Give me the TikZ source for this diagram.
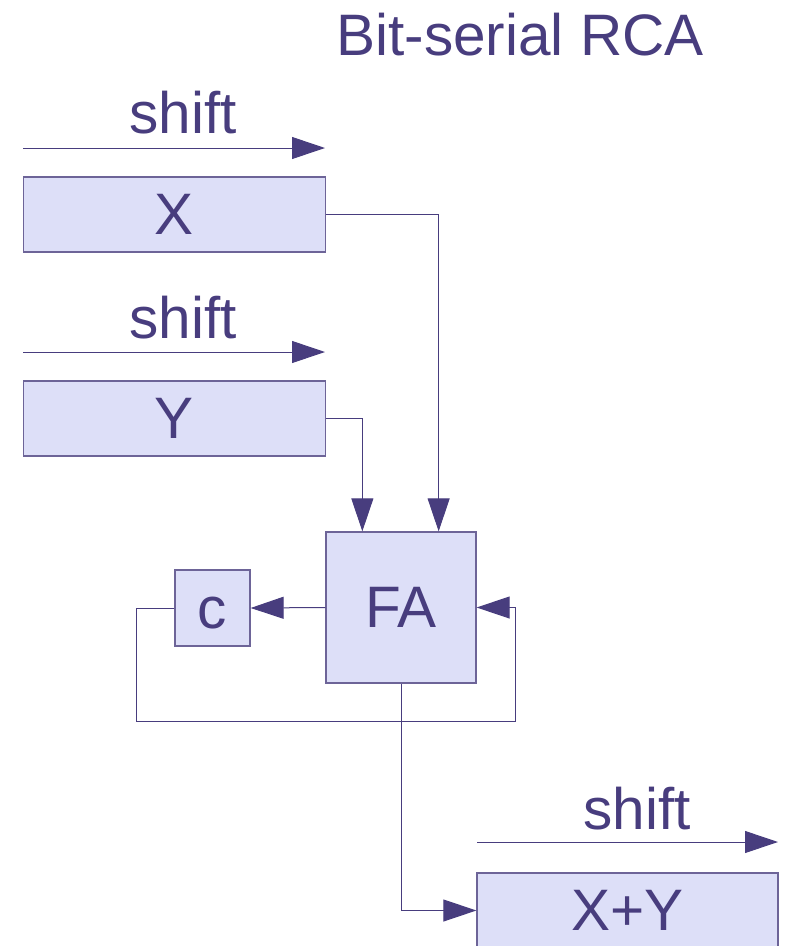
\documentclass[tikz,border=0pt]{standalone}
\usepackage{fontspec}
\setmainfont{Liberation Sans}
\usetikzlibrary{arrows.meta}
\definecolor{ink}{HTML}{483D7E}
\definecolor{pale}{HTML}{DDDFF8}

\begin{document}
\begin{tikzpicture}[x=1pt,y=-1pt]
\tikzstyle{every node}+=[inner sep=0pt,text=ink,font=\fontsize{58.5}{62}\selectfont]
\tikzstyle{reg}=[draw=ink!80,line width=1.3pt,fill=pale]
\tikzstyle{wire}=[draw=ink,line width=1pt]
\tikzstyle{tip}=[-{Triangle[length=33pt,width=22pt]}]
\clip (0,0) rectangle (786,946);
\useasboundingbox (0,0) rectangle (786,946);
\node[anchor=base] (title) at (520,55) {Bit-serial RCA};
\node[anchor=base] (shx) at (183,133) {shift};
\coordinate (shxa) at (23,148);
\coordinate (shxb) at (325,148);
\node[reg,minimum width=302pt,minimum height=75pt] (X) at (174.5,214.5) {X};
\node[anchor=base] (shy) at (183,338) {shift};
\coordinate (shya) at (23,352);
\coordinate (shyb) at (325,352);
\node[reg,minimum width=302pt,minimum height=75pt] (Y) at (174.5,418.5) {Y};
\node[reg,minimum width=150pt,minimum height=151pt] (FA) at (401,607.5) {FA};
\node[reg,minimum width=75pt,minimum height=76pt,text height=40pt,text depth=0pt] (c) at (212.5,608) {c};
\coordinate (loop) at (515,721);
\node[anchor=base] (shs) at (637,829) {shift};
\coordinate (shsa) at (477,842);
\coordinate (shsb) at (778,842);
\node[reg,minimum width=301pt,minimum height=75pt] (sum) at (627.5,910.5) {X+Y};
\draw [wire,tip] (shxa) -- (shxb);
\draw [wire,tip] (shya) -- (shyb);
\draw [wire,tip] (shsa) -- (shsb);
\draw [wire,tip] (X.east) -| ([xshift=-38pt]FA.north east);
\draw [wire,tip] (Y.east) -| ([xshift=37pt]FA.north west);
\draw [wire,tip] (FA.west) -- (c.east);
\draw [wire,tip] (c.west) -- ++(-38,0) |- (loop) |- (FA.east);
\draw [wire,tip] (FA.south) |- (sum.west);
\end{tikzpicture}
\end{document}
